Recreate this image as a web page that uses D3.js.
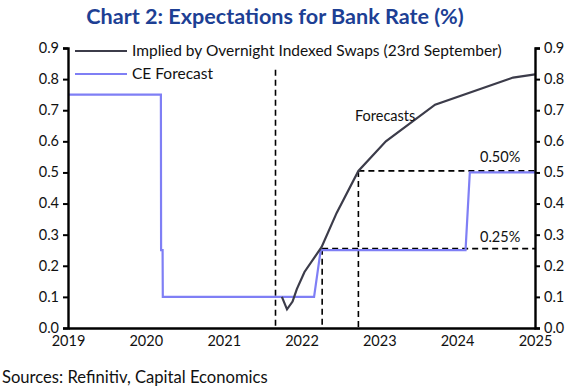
<!DOCTYPE html>
<html>
<head>
<meta charset="utf-8">
<script src="https://cdn.jsdelivr.net/npm/d3@7"></script>
<style>
  body { margin: 0; background: #fff; }
  text { font-family: Lato, "Open Sans", sans-serif; }
</style>
</head>
<body>
<svg></svg>
<script>
// Bank Rate expectations
const yearTicks = ["2019", "2020", "2021", "2022", "2023", "2024", "2025"];
const rateTicks = [0, 0.1, 0.2, 0.3, 0.4, 0.5, 0.6, 0.7, 0.8, 0.9];

const oisDates = ["2021-10-01", "2021-10-25", "2021-11-20", "2021-12-10", "2022-01-15",
  "2022-04-05", "2022-06-15", "2022-09-25", "2023-02-01", "2023-09-20", "2024-09-20", "2025-01-01"];
const oisValues = [0.10, 0.06, 0.085, 0.125, 0.18, 0.26, 0.37, 0.505, 0.60, 0.718, 0.805, 0.815];

const ceDates = ["2019-01-01", "2020-03-12", "2020-03-13", "2020-03-20", "2020-03-21",
  "2022-03-01", "2022-04-01", "2024-02-10", "2024-03-01", "2025-01-01"];
const ceValues = [0.75, 0.75, 0.25, 0.25, 0.10, 0.10, 0.25, 0.25, 0.50, 0.50];

// annotation guides: [date, level]
const guideDates = ["2021-09-01", "2022-04-08", "2022-09-25"];
const guideTops = [0.83, 0.255, 0.505];
const levelLabels = ["0.50%", "0.25%"];
const levelValues = [0.505, 0.255];

const width = 577, height = 391;
const margin = {top: 48, right: 42, bottom: 63, left: 68};
const graphWidth = width - margin.left - margin.right;
const graphHeight = height - margin.top - margin.bottom;

const parse = d3.timeParse("%Y-%m-%d");
const darkCol = "#3c3c4a", lightCol = "#7f7ff5";

const svg = d3.select("svg")
  .attr("width", width)
  .attr("height", height);

svg.append("text")
  .text("Chart 2: Expectations for Bank Rate (%)")
  .attr("x", 275).attr("y", 24)
  .attr("text-anchor", "middle")
  .attr("font-size", 21.6).attr("font-weight", "bold")
  .attr("fill", "#1d3f94");

const graph = svg.append("g")
  .attr("transform", `translate(${margin.left}, ${margin.top})`);

const xScale = d3.scaleTime()
  .domain([parse("2019-01-01"), parse("2025-01-01")])
  .range([0, graphWidth]);
const yScale = d3.scaleLinear()
  .domain([0, 0.9])
  .range([graphHeight, 0]);

const yLeft = d3.axisLeft(yScale).tickValues(rateTicks).tickFormat(d3.format(".1f")).tickSize(5);
const yRight = d3.axisRight(yScale).tickValues(rateTicks).tickFormat(d3.format(".1f")).tickSize(5);
const xAxis = d3.axisBottom(xScale)
  .tickValues(yearTicks.map(y => parse(y + "-01-01")))
  .tickFormat(d3.timeFormat("%Y"))
  .tickSize(0);

// dashed guides
const dash = graph.append("g")
  .attr("stroke", "#000").attr("stroke-width", 1.6)
  .attr("stroke-dasharray", "6,4").attr("fill", "none");
guideDates.forEach((d, i) => {
  dash.append("line")
    .attr("x1", xScale(parse(d))).attr("x2", xScale(parse(d)))
    .attr("y1", yScale(guideTops[i])).attr("y2", graphHeight);
});
dash.append("line")
  .attr("x1", xScale(parse(guideDates[2]))).attr("x2", graphWidth)
  .attr("y1", yScale(levelValues[0])).attr("y2", yScale(levelValues[0]));
dash.append("line")
  .attr("x1", xScale(parse(guideDates[1]))).attr("x2", graphWidth)
  .attr("y1", yScale(levelValues[1])).attr("y2", yScale(levelValues[1]));

const line = d3.line().x(d => xScale(d[0])).y(d => yScale(d[1]));

graph.append("path")
  .datum(ceDates.map((d, i) => [parse(d), ceValues[i]]))
  .attr("d", line)
  .attr("fill", "none").attr("stroke", lightCol).attr("stroke-width", 2.2);

graph.append("path")
  .datum(oisDates.map((d, i) => [parse(d), oisValues[i]]))
  .attr("d", line)
  .attr("fill", "none").attr("stroke", darkCol).attr("stroke-width", 2.2);

// labels
const labelOffsets = [-9, -7];
levelLabels.forEach((t, i) => {
  graph.append("text").text(t)
    .attr("x", 480 - margin.left).attr("y", yScale(levelValues[i]) + labelOffsets[i])
    .attr("font-size", 14.5).attr("fill", "#111");
});
graph.append("text").text("Forecasts")
  .attr("x", 355 - margin.left).attr("y", 121 - margin.top)
  .attr("font-size", 14.5).attr("fill", "#111");

// axes
const leftG = graph.append("g").call(yLeft);
const rightG = graph.append("g").attr("transform", `translate(${graphWidth},0)`).call(yRight);
const bottomG = graph.append("g").attr("transform", `translate(0,${graphHeight})`).call(xAxis);

[leftG, rightG, bottomG].forEach(g => {
  g.select(".domain").attr("stroke", "#000").attr("stroke-width", 2.4);
  g.selectAll(".tick line").attr("stroke", "#000").attr("stroke-width", 2);
  g.selectAll("text").attr("font-size", 14.5).attr("fill", "#111")
    .attr("font-family", "Lato, 'Open Sans', sans-serif");
});
leftG.selectAll("text").attr("x", -9).attr("dy", "0.3em");
rightG.selectAll("text").attr("x", 9).attr("dy", "0.3em");
bottomG.selectAll("text").attr("dy", "1.05em").attr("y", 3);

// legend
const legendNames = ["Implied by Overnight Indexed Swaps (23rd September)", "CE Forecast"];
const legendCols = [darkCol, lightCol];
legendNames.forEach((n, i) => {
  const ly = 51 + i * 23;
  svg.append("line")
    .attr("x1", 75).attr("x2", 127).attr("y1", ly).attr("y2", ly)
    .attr("stroke", legendCols[i]).attr("stroke-width", 2.2);
  svg.append("text").text(n)
    .attr("x", 132).attr("y", ly + 5)
    .attr("font-size", 15.5).attr("fill", "#111");
});

svg.append("text").text("Sources: Refinitiv, Capital Economics")
  .attr("x", 2).attr("y", 383)
  .attr("font-size", 16.6).attr("fill", "#111");
</script>
</body>
</html>
